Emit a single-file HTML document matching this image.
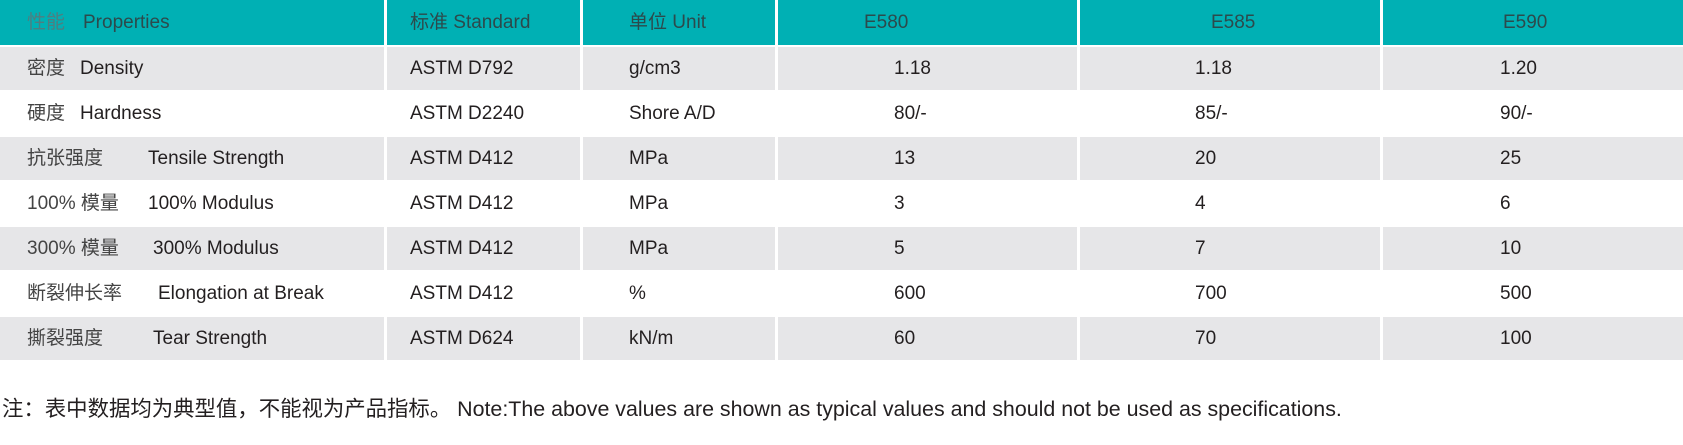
<!DOCTYPE html>
<html><head><meta charset="utf-8"><style>
body{margin:0;width:1683px;height:445px;background:#fff;position:relative;overflow:hidden;font-family:"Liberation Sans","Noto Sans CJK SC",sans-serif;font-size:19px;color:#231f20}
.r{position:absolute;left:0;width:1683px;height:45px}
.c{position:absolute;top:0;height:100%}
.t{position:absolute;white-space:pre;line-height:45px;top:0}
.h .c{background:#00b0b4}
.g .c{background:#e6e6e8}
.h .t{color:#2c4a4c}
.h .cj{color:#4e7e80}
.cj{color:#444}
</style></head><body>
<div id="w"></div>
<script>
const cols=[[0,384],[387,580],[583,775],[778,1077],[1080,1380],[1383,1683]];
const rows=[
["性能","Properties",83,"标准 Standard","单位 Unit","E580","E585","E590"],
["密度","Density",80,"ASTM D792","g/cm3","1.18","1.18","1.20"],
["硬度","Hardness",80,"ASTM D2240","Shore A/D","80/-","85/-","90/-"],
["抗张强度","Tensile Strength",148,"ASTM D412","MPa","13","20","25"],
["100% 模量","100% Modulus",148,"ASTM D412","MPa","3","4","6"],
["300% 模量","300% Modulus",153,"ASTM D412","MPa","5","7","10"],
["断裂伸长率","Elongation at Break",158,"ASTM D412","%","600","700","500"],
["撕裂强度","Tear Strength",153,"ASTM D624","kN/m","60","70","100"]];
let html="";
rows.forEach((r,i)=>{
 const top=i==0?0:47+(i-1)*45, h=i==0?45:43;
 const cls=i==0?"h":(i%2==1?"g":"");
 html+=`<div class="r ${cls}" style="top:${top}px;height:${h}px">`;
 cols.forEach(c=>{html+=`<div class="c" style="left:${c[0]}px;width:${c[1]-c[0]}px"></div>`});
 const lh=`line-height:${h}px`;
 html+=`<span class="t cj" style="left:27px;${lh}">${r[0]}</span>`;
 html+=`<span class="t" style="left:${r[2]}px;${lh}">${r[1]}</span>`;
 html+=`<span class="t" style="left:410px;${lh}">${r[3]}</span>`;
 html+=`<span class="t" style="left:629px;${lh}">${r[4]}</span>`;
 const xs=i==0?[864,1211,1503]:[894,1195,1500];
 for(let k=0;k<3;k++)html+=`<span class="t" style="left:${xs[k]}px;${lh}">${r[5+k]}</span>`;
 html+=`</div>`;
});
html+=`<div style="position:absolute;left:2px;top:392px;font-size:21.4px;white-space:pre;color:#231f20">注：表中数据均为典型值，不能视为产品指标。 Note:The above values are shown as typical values and should not be used as specifications.</div>`;
document.getElementById("w").innerHTML=html;
</script>
</body></html>
